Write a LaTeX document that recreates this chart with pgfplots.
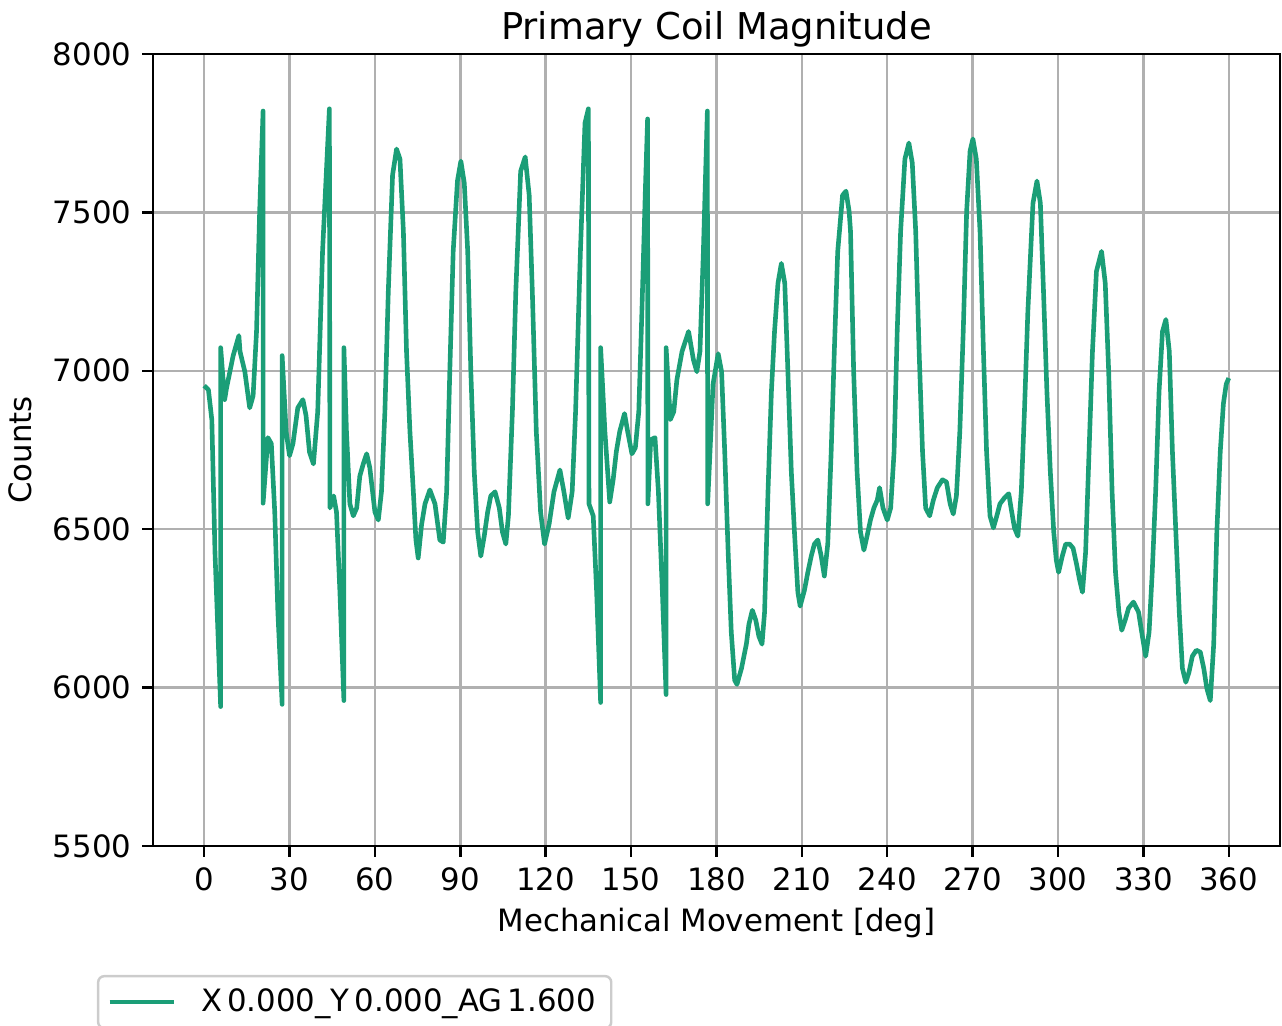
\documentclass[border=0pt]{standalone}
\usepackage{fontspec}
\setmainfont{DejaVu Sans}
\usepackage{pgfplots}
\pgfplotsset{compat=1.18}
\definecolor{mplgreen}{HTML}{1B9E77}
\definecolor{gridgray}{HTML}{B0B0B0}
\definecolor{legframe}{HTML}{CCCCCC}
\begin{document}
\begin{tikzpicture}
\begin{axis}[
  name=ax,
  scale only axis,
  width=366.3pt, height=257.4pt,
  xmin=-18, xmax=378, ymin=5500, ymax=8000,
  xtick={0,30,...,360}, ytick={5500,6000,...,8000},
  /pgf/number format/assume math mode=true,
  scaled y ticks=false,
  yticklabel style={/pgf/number format/.cd,1000 sep={}},
  tick label style={font=\fontsize{10}{12}\selectfont},
  tick align=outside, major tick length=3.5pt,
  every tick/.style={black, line width=0.8pt},
  axis line style={black, line width=0.8pt},
  grid=major,
  major grid style={gridgray, line width=0.8pt},
  xtick pos=bottom, ytick pos=left,
  title={Primary Coil Magnitude},
  title style={font=\fontsize{12}{14}\selectfont, at={(0.5,1)}, anchor=south, inner sep=0pt, yshift=-4pt},
  xlabel={Mechanical Movement [deg]},
  ylabel={Counts},
  label style={font=\fontsize{10}{12}\selectfont},
  xlabel style={yshift=1.3pt},
  legend style={at={(0,0)}, anchor=north west, xshift=-18.2pt, yshift=-41.9pt,
    draw=legframe, line width=0.8pt, rounded corners=2pt, font=\fontsize{10}{12}\selectfont,
    inner xsep=3pt, inner ysep=2pt},
  legend cell align=left,
  legend image code/.code={\draw[#1, line cap=butt] (0pt,0pt) -- (21pt,0pt);},
  every axis legend/.append style={column sep=6pt},
]
\addplot[mplgreen, line width=1.5pt, line join=round] coordinates {
(0,6953) (1.5,6940) (2.7,6845) (3.8,6428) (5.8,5940) (5.8,7073) (7.2,6909) (7.9,6947) (10.2,7048) (12.2,7111) (12.6,7061) (14.3,6997) (16.0,6883) (17.2,6921) (18.4,7124) (19.5,7504) (20.7,7820) (20.7,6582) (22.4,6789) (23.6,6770) (24.8,6554) (25.9,6238) (27.4,5947) (27.4,7048) (28.8,6808) (30.0,6732) (31.2,6770) (32.9,6883) (34.7,6909) (35.8,6858) (37.0,6744) (38.4,6706) (39.9,6871) (41.6,7377) (44.0,7827) (44.2,6567) (45.5,6605) (46.5,6554) (47.7,6301) (49.1,5959) (49.1,7073) (50.0,6808) (51.2,6580) (52.4,6542) (53.6,6567) (54.7,6668) (55.9,6706) (57.1,6738) (58.2,6694) (60.0,6554) (61.2,6529) (62.3,6618) (63.5,6871) (64.7,7251) (66.2,7618) (67.6,7700) (68.8,7668) (70.0,7440) (71.1,7061) (72.3,6808) (73.5,6618) (74.4,6466) (75.2,6409) (76.4,6515) (77.6,6580) (79.3,6624) (81.1,6580) (82.8,6466) (84.0,6459) (85.2,6618) (86.3,6996) (87.5,7377) (89.0,7600) (90.2,7662) (91.4,7592) (92.6,7377) (93.7,6997) (94.9,6681) (96.1,6491) (97.2,6415) (98.4,6478) (99.6,6554) (100.7,6605) (102.2,6618) (103.7,6567) (104.8,6491) (106.0,6453) (106.9,6542) (108.3,6871) (109.5,7251) (111.2,7630) (112.8,7675) (114.2,7554) (115.3,7251) (116.7,6808) (118.2,6554) (119.6,6453) (121.2,6516) (122.9,6618) (125.0,6687) (126.4,6618) (127.9,6535) (129.3,6618) (130.5,6871) (132.2,7377) (133.8,7782) (135.0,7827) (135.2,6580) (136.7,6542) (137.9,6301) (139.3,5953) (139.3,7073) (140.8,6808) (142.5,6586) (143.7,6656) (144.8,6744) (146.0,6808) (147.7,6865) (148.8,6808) (150.3,6738) (151.5,6757) (152.7,6871) (153.8,7187) (155.0,7567) (155.8,7795) (155.9,6580) (156.9,6782) (158.4,6789) (159.6,6618) (161.0,6301) (162.3,5978) (162.3,7073) (163.8,6846) (165.0,6871) (166.1,6972) (167.9,7061) (170.2,7124) (171.9,7035) (173.1,6997) (174.2,7061) (175.4,7377) (176.8,7820) (176.9,6580) (178.8,6958) (180.6,7054) (181.8,6997) (182.9,6744) (184.1,6428) (185.2,6175) (186.4,6023) (187.2,6010) (188.8,6061) (190.5,6137) (191.4,6200) (192.6,6244) (193.8,6213) (194.9,6162) (196.0,6137) (196.9,6238) (198.1,6618) (199.3,6934) (200.4,7124) (201.6,7276) (202.8,7339) (204.0,7276) (205.1,6996) (206.3,6681) (207.4,6491) (208.6,6301) (209.4,6257) (210.9,6307) (212.1,6364) (213.3,6415) (214.4,6453) (215.6,6466) (216.8,6415) (217.9,6352) (219.1,6453) (220.3,6744) (221.4,7061) (222.6,7377) (224.3,7554) (225.5,7567) (226.6,7504) (227.1,7440) (228.2,6997) (229.4,6681) (230.6,6491) (231.8,6434) (232.9,6478) (234.1,6529) (235.3,6567) (236.5,6592) (237.3,6631) (238.5,6567) (240.0,6529) (241.2,6567) (242.4,6744) (243.5,7124) (244.7,7440) (246.2,7668) (247.6,7719) (248.8,7656) (250.0,7440) (251.2,7061) (252.4,6744) (253.5,6567) (254.9,6542) (256.2,6592) (257.6,6631) (259.4,6656) (260.8,6649) (262.1,6580) (263.2,6548) (264.3,6605) (265.5,6808) (266.7,7124) (267.9,7504) (269.1,7694) (270.1,7732) (271.3,7668) (272.6,7440) (273.8,7061) (274.9,6744) (276.1,6542) (277.3,6504) (278.5,6542) (279.6,6580) (281.2,6599) (282.7,6612) (283.5,6567) (284.7,6504) (285.9,6478) (287.1,6618) (288.2,6871) (289.4,7187) (291.2,7529) (292.6,7599) (293.8,7529) (294.9,7251) (296.1,6934) (297.3,6681) (298.5,6491) (299.4,6402) (300.2,6364) (301.5,6415) (302.7,6453) (304.1,6453) (305.3,6440) (306.5,6390) (307.6,6339) (308.6,6301) (309.7,6428) (310.9,6744) (312.1,7061) (313.5,7314) (315.3,7377) (316.6,7276) (317.8,6997) (319.0,6618) (320.2,6364) (321.4,6238) (322.4,6181) (323.6,6213) (324.8,6251) (326.5,6270) (328.3,6238) (329.4,6175) (330.8,6099) (332.0,6175) (333.1,6364) (334.3,6618) (335.5,6934) (336.7,7124) (337.9,7162) (339.1,7061) (340.2,6744) (341.4,6491) (342.6,6238) (343.7,6061) (344.9,6017) (346.0,6048) (347.2,6099) (348.6,6118) (350.0,6112) (351.2,6061) (352.3,5997) (353.5,5959) (354.7,6137) (355.8,6491) (357.0,6744) (358.1,6896) (359.1,6958) (360.0,6977)
};
\addlegendentry{X\,0.000\_Y\,0.000\_AG\,1.600}
\end{axis}
\pgfresetboundingbox
\path[use as bounding box] ([xshift=-49.7pt,yshift=-58.5pt]ax.south west) rectangle ([xshift=0.65pt,yshift=17.55pt]ax.north east);
\end{tikzpicture}
\end{document}
